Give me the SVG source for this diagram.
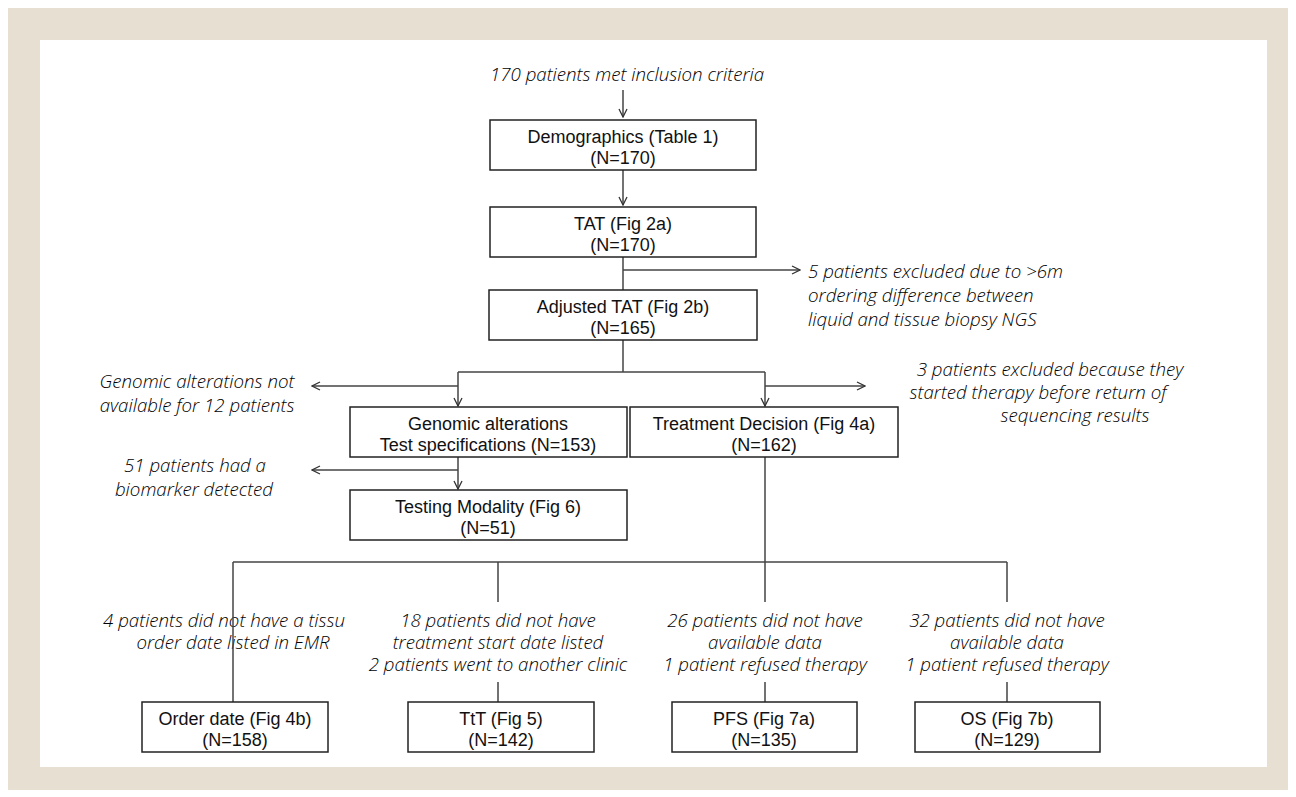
<svg xmlns="http://www.w3.org/2000/svg" width="1296" height="797" viewBox="0 0 1296 797">
<defs>
<style>
.box{fill:#fff;stroke:#222;stroke-width:1.5}
.bt{font-family:"Liberation Sans",Arial,sans-serif;font-size:18px;fill:#111;text-anchor:middle}
.it{font-family:"Open Sans","DejaVu Sans",sans-serif;font-style:italic;font-weight:300;font-size:18.7px;fill:#000}
.ln{fill:none;stroke:#444;stroke-width:1.5}
</style>
<marker id="ah" viewBox="0 0 10 10" refX="9" refY="5" markerWidth="10" markerHeight="10" markerUnits="userSpaceOnUse" orient="auto">
<path d="M1,1 L9,5 L1,9" fill="none" stroke="#333" stroke-width="1.3"/>
</marker>
</defs>
<rect x="0" y="0" width="1296" height="797" fill="#fff"/>
<rect x="8" y="8" width="1280" height="782" fill="#E6DFD2"/>
<rect x="40" y="40" width="1227" height="727" fill="#fff"/>

<g id="connectors">
<path class="ln" d="M623,90 V117" marker-end="url(#ah)"/>
<path class="ln" d="M623,170 V205" marker-end="url(#ah)"/>
<path class="ln" d="M623,257 V290"/>
<path class="ln" d="M623,270 H800" marker-end="url(#ah)"/>
<path class="ln" d="M623,340 V372"/>
<path class="ln" d="M458,372 H765"/>
<path class="ln" d="M458,372 V406" marker-end="url(#ah)"/>
<path class="ln" d="M765,372 V406" marker-end="url(#ah)"/>
<path class="ln" d="M458,386 H312" marker-end="url(#ah)"/>
<path class="ln" d="M765,386 H865" marker-end="url(#ah)"/>
<path class="ln" d="M458,457 V489" marker-end="url(#ah)"/>
<path class="ln" d="M458,470 H312" marker-end="url(#ah)"/>
<path class="ln" d="M765,457 V562"/>
<path class="ln" d="M233,562 H1007"/>
<path class="ln" d="M498,562 V602 M498,682 V702"/>
<path class="ln" d="M765,562 V602 M765,682 V702"/>
<path class="ln" d="M1007,562 V602 M1007,682 V702"/>
</g>

<g id="labels">
<text class="it" x="627" y="81" text-anchor="middle">170 patients met inclusion criteria</text>
<text class="it" x="808" y="278">5 patients excluded due to &gt;6m</text>
<text class="it" x="808" y="302">ordering difference between</text>
<text class="it" x="808" y="326">liquid and tissue biopsy NGS</text>
<text class="it" x="197" y="388" text-anchor="middle">Genomic alterations not</text>
<text class="it" x="197" y="412" text-anchor="middle">available for 12 patients</text>
<text class="it" x="1050" y="376" text-anchor="middle">3 patients excluded because they</text>
<text class="it" x="1038" y="399" text-anchor="middle">started therapy before return of</text>
<text class="it" x="1075" y="422" text-anchor="middle">sequencing results</text>
<text class="it" x="195" y="472" text-anchor="middle">51 patients had a</text>
<text class="it" x="194" y="496" text-anchor="middle">biomarker detected</text>
<text class="it" x="103" y="627">4 patients did not have a tissu</text>
<text class="it" x="233" y="649" text-anchor="middle">order date listed in EMR</text>
<text class="it" x="498" y="627" text-anchor="middle">18 patients did not have</text>
<text class="it" x="498" y="649" text-anchor="middle">treatment start date listed</text>
<text class="it" x="498" y="671" text-anchor="middle">2 patients went to another clinic</text>
<text class="it" x="765" y="627" text-anchor="middle">26 patients did not have</text>
<text class="it" x="765" y="649" text-anchor="middle">available data</text>
<text class="it" x="765" y="671" text-anchor="middle">1 patient refused therapy</text>
<text class="it" x="1007" y="627" text-anchor="middle">32 patients did not have</text>
<text class="it" x="1007" y="649" text-anchor="middle">available data</text>
<text class="it" x="1007" y="671" text-anchor="middle">1 patient refused therapy</text>
</g>
<path class="ln" d="M233,562 V702"/>

<g id="demographics"><rect class="box" x="490" y="120" width="266" height="50"/><text class="bt" x="623" y="143">Demographics (Table 1)</text><text class="bt" x="623" y="164">(N=170)</text></g>
<g id="tat"><rect class="box" x="490" y="207" width="266" height="50"/><text class="bt" x="623" y="230">TAT (Fig 2a)</text><text class="bt" x="623" y="251">(N=170)</text></g>
<g id="adjusted-tat"><rect class="box" x="489" y="290" width="268" height="50"/><text class="bt" x="623" y="313">Adjusted TAT (Fig 2b)</text><text class="bt" x="623" y="334">(N=165)</text></g>
<g id="genomic"><rect class="box" x="350" y="407" width="277" height="50"/><text class="bt" x="488" y="430">Genomic alterations</text><text class="bt" x="488" y="451">Test specifications (N=153)</text></g>
<g id="treatment"><rect class="box" x="630" y="407" width="268" height="50"/><text class="bt" x="764" y="430">Treatment Decision (Fig 4a)</text><text class="bt" x="764" y="451">(N=162)</text></g>
<g id="testing"><rect class="box" x="350" y="490" width="277" height="50"/><text class="bt" x="488" y="513">Testing Modality (Fig 6)</text><text class="bt" x="488" y="534">(N=51)</text></g>
<g id="order-date"><rect class="box" x="142" y="702" width="186" height="50"/><text class="bt" x="235" y="725">Order date (Fig 4b)</text><text class="bt" x="235" y="746">(N=158)</text></g>
<g id="ttt"><rect class="box" x="408" y="702" width="186" height="50"/><text class="bt" x="501" y="725">TtT (Fig 5)</text><text class="bt" x="501" y="746">(N=142)</text></g>
<g id="pfs"><rect class="box" x="672" y="702" width="185" height="50"/><text class="bt" x="764" y="725">PFS (Fig 7a)</text><text class="bt" x="764" y="746">(N=135)</text></g>
<g id="os"><rect class="box" x="915" y="702" width="185" height="50"/><text class="bt" x="1007" y="725">OS (Fig 7b)</text><text class="bt" x="1007" y="746">(N=129)</text></g>
</svg>
